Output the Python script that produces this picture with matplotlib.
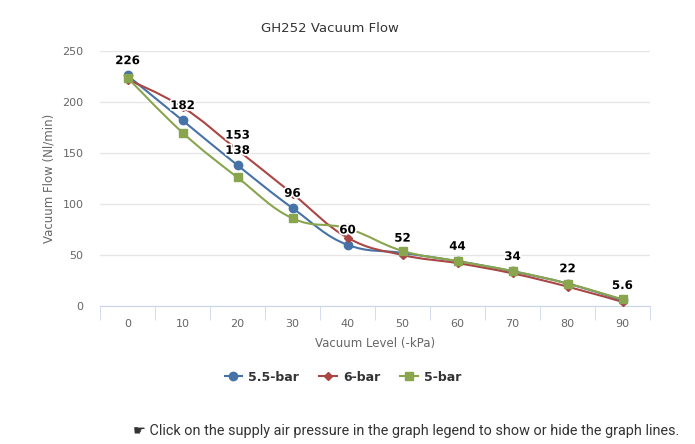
import matplotlib
matplotlib.use('Agg')
import matplotlib.pyplot as plt
import matplotlib.patheffects as pe
from matplotlib.path import Path
from matplotlib.patches import PathPatch

levels = [0, 10, 20, 30, 40, 50, 60, 70, 80, 90]
flow_55 = [226, 182, 138, 96, 60, 52, 44, 34, 22, 5.6]
flow_6 = [222, 195, 153, 110, 67, 50, 42, 32, 19, 4]
flow_5 = [224, 170, 126, 86, 76, 54, 44, 34.3, 22, 6.5]

# labels that were left visible on the chart
labels_55 = ['226', '182', '138', '96', '60', '52', '44', '34', '22', '5.6']
labels_6 = {20: '153'}

names = ['5.5-bar', '6-bar', '5-bar']
colors = ['#4572A7', '#AA4643', '#89A54E']
markers = ['o', 'D', 's']
msizes = [6, 4, 6]


def spline_path(xs, ys, smoothing=1.5):
    # highcharts style spline
    n = len(xs)
    lefts = [(xs[0], ys[0])] * n
    rights = [(xs[i], ys[i]) for i in range(n)]
    for i in range(1, n - 1):
        px, py = xs[i], ys[i]
        lx, ly = xs[i - 1], ys[i - 1]
        nx, ny = xs[i + 1], ys[i + 1]
        d = smoothing + 1
        lcx = (smoothing * px + lx) / d
        lcy = (smoothing * py + ly) / d
        rcx = (smoothing * px + nx) / d
        rcy = (smoothing * py + ny) / d
        if rcx != lcx:
            corr = ((rcy - lcy) * (rcx - px)) / (rcx - lcx) + py - rcy
            lcy += corr
            rcy += corr
        if lcy > ly and lcy > py:
            lcy = max(ly, py)
            rcy = 2 * py - lcy
        elif lcy < ly and lcy < py:
            lcy = min(ly, py)
            rcy = 2 * py - lcy
        if rcy > ny and rcy > py:
            rcy = max(ny, py)
            lcy = 2 * py - rcy
        elif rcy < ny and rcy < py:
            rcy = min(ny, py)
            lcy = 2 * py - rcy
        lefts[i] = (lcx, lcy)
        rights[i] = (rcx, rcy)
    verts = [(xs[0], ys[0])]
    codes = [Path.MOVETO]
    for i in range(1, n):
        verts += [rights[i - 1], lefts[i] if i < n - 1 else (xs[i], ys[i]), (xs[i], ys[i])]
        codes += [Path.CURVE4] * 3
    return Path(verts, codes)


fig = plt.figure(figsize=(6.95, 4.44), dpi=100)
ax = fig.add_axes([100 / 695, 138 / 444, 550 / 695, 255 / 444])

series = [flow_55, flow_6, flow_5]
order = [1, 0, 2]
for k in order:
    ys = series[k]
    ax.add_patch(PathPatch(spline_path(levels, ys), fill=False, edgecolor=colors[k], lw=1.5,
                           capstyle='round', joinstyle='round', zorder=3 + k * 0.1))
    ax.plot(levels, ys, linestyle='none', marker=markers[k], color=colors[k], markersize=msizes[k],
            zorder=4 + k * 0.1)

outline = [pe.withStroke(linewidth=2.5, foreground='white')]
for x, y, t in zip(levels, flow_55, labels_55):
    ax.annotate(t, (x, y), xytext=(0, 6), textcoords='offset points', ha='center', va='bottom',
                fontsize=8.5, fontweight='bold', color='black', path_effects=outline, zorder=6)
for x, t in labels_6.items():
    y = flow_6[levels.index(x)]
    ax.annotate(t, (x, y), xytext=(0, 6), textcoords='offset points', ha='center', va='bottom',
                fontsize=8.5, fontweight='bold', color='black', path_effects=outline, zorder=6)

ax.set_xlim(-5, 95)
ax.set_ylim(0, 250)
ax.set_yticks([0, 50, 100, 150, 200, 250])
ax.set_xticks(levels)
ax.set_xticks([l - 5 for l in levels] + [95], minor=True)
ax.grid(axis='y', color='#e6e6e6', lw=1)
ax.set_axisbelow(True)
for s in ['top', 'right', 'left']:
    ax.spines[s].set_visible(False)
ax.spines['bottom'].set_color('#ccd6eb')
ax.tick_params(axis='x', which='major', length=0, labelsize=8, labelcolor='#666666', pad=9)
ax.tick_params(axis='x', which='minor', length=10, color='#ccd6eb', direction='out')
ax.tick_params(axis='y', length=0, labelsize=8, labelcolor='#666666', pad=12)

ax.set_xlabel('Vacuum Level (-kPa)', fontsize=8.5, color='#666666', labelpad=6)
ax.set_ylabel('Vacuum Flow (Nl/min)', fontsize=8.5, color='#666666', labelpad=5)
fig.text(330 / 695, 1 - 28 / 444, 'GH252 Vacuum Flow', ha='center', va='center', fontsize=9.5, color='#333333')

handles = [plt.Line2D([], [], color=colors[k], marker=markers[k], lw=1.5,
                      markersize=msizes[k]) for k in range(3)]
leg = fig.legend(handles, names, loc='center', bbox_to_anchor=(343 / 695, 1 - 377 / 444), ncol=3,
                 frameon=False, handlelength=1.4, columnspacing=1.6, handletextpad=0.5,
                 prop={'weight': 'bold', 'size': 9})
for t in leg.get_texts():
    t.set_color('#333333')

fig.text(133 / 695, 1 - 431 / 444,
         '\u261b Click on the supply air pressure in the graph legend to show or hide the graph lines.',
         ha='left', va='center', fontsize=10.4, color='#333333', family=['Roboto', 'DejaVu Sans'])

fig.savefig('out.png', dpi=100)
